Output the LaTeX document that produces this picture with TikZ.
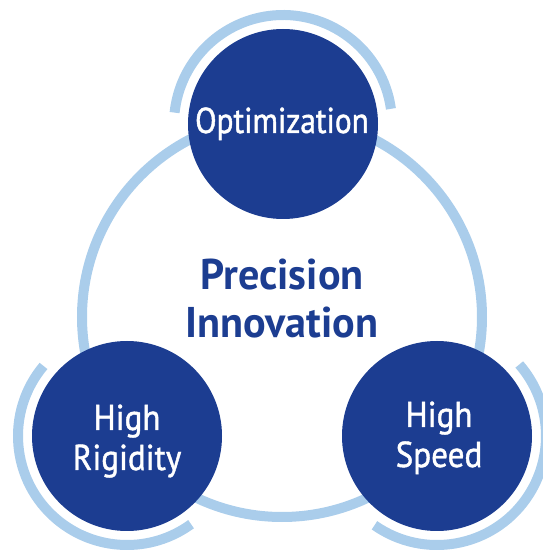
\documentclass[tikz,border=0pt]{standalone}
\usepackage{fontspec}
\setmainfont{PT Sans}[FakeStretch=0.92,FakeBold=1.2]
\newfontfamily\boldface{PT Sans Bold}[FakeStretch=0.98]
\newfontfamily\optface{PT Sans}[FakeStretch=0.87,FakeBold=1.2]
\definecolor{darkblue}{RGB}{28,61,145}
\definecolor{lightblue}{RGB}{170,205,235}
\begin{document}
\begin{tikzpicture}[x=1pt,y=1pt,
  ring/.style={draw=lightblue, line width=10pt},
  bubble/.style={circle, fill=darkblue, minimum size=190pt, inner sep=0pt},
  wtext/.style={text=white, font=\fontsize{36}{40}\selectfont, anchor=base, inner sep=0pt},
  btext/.style={text=darkblue, font=\fontsize{43}{48}\selectfont\boldface, anchor=base, inner sep=0pt}]
\useasboundingbox (0,0) rectangle (543,550);
% big ring
\node[circle, minimum size=400pt, inner sep=0pt] (big) at (282,233) {};
\draw[ring] (big.center) circle[radius=200pt];
% circles
\coordinate (optc) at (283,426);
\coordinate (rigc) at (127,114);
\coordinate (spdc) at (437,114);
% outer arcs
\draw[ring] ([shift={(8:109pt)}]optc) arc[start angle=8, end angle=174, radius=109pt];
\draw[ring] ([shift={(140:109pt)}]rigc) arc[start angle=140, end angle=306, radius=109pt];
\draw[ring] ([shift={(-125:109pt)}]spdc) arc[start angle=-125, end angle=41, radius=109pt];
% bubbles
\node[bubble] (opt) at (optc) {};
\node[bubble] (rig) at (rigc) {};
\node[bubble] (spd) at (spdc) {};
% texts
\node[wtext, font=\fontsize{36}{40}\selectfont\optface] (optT) at (282,417) {Optimization};
\node[wtext] (rigT1) at (127,120) {High};
\node[wtext] (rigT2) at (127,80) {Rigidity};
\node[wtext] (spdT1) at (439,123) {High};
\node[wtext] (spdT2) at (439,83) {Speed};
\node[btext] (cT1) at (282,260) {Precision};
\node[btext] (cT2) at (282,212) {Innovation};
\end{tikzpicture}
\end{document}
